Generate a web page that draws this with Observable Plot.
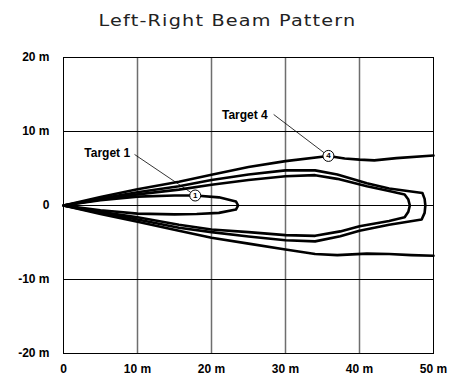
<!DOCTYPE html>
<html><head><meta charset="utf-8">
<script src="https://cdn.jsdelivr.net/npm/d3@7"></script>
<script src="https://cdn.jsdelivr.net/npm/@observablehq/plot@0.6"></script>
<style>
body{margin:0;background:#fff;width:450px;height:379px;overflow:hidden}
#title{box-sizing:border-box;height:40px;padding-top:13px;font:16px/16px "DejaVu Sans",sans-serif;color:#222;text-align:center;white-space:nowrap}
#title span{display:inline-block;letter-spacing:1px;transform:scaleX(1.2);transform-origin:center;margin-left:4px}
</style></head><body>
<div id="title"><span>Left-Right Beam Pattern</span></div>
<div id="chart"></div>
<script>
const xTicks = [0, 10, 20, 30, 40, 50];
const xTickLabels = ["0", "10 m", "20 m", "30 m", "40 m", "50 m"];
const yTicks = [-20, -10, 0, 10, 20];
const yTickLabels = ["-20 m", "-10 m", "0", "10 m", "20 m"];

// Target 1 (closed lobe)
const t1x = [0, 5, 10, 15, 17.8, 21, 23.3, 23.6, 23.3, 21, 18, 15, 10, 5, 0];
const t1y = [0, 0.7, 1.2, 1.35, 1.35, 1.1, 0.55, 0, -0.55, -1.0, -1.15, -1.2, -1.1, -0.65, 0];
// Target 2 (closed lobe)
const t2x = [0, 5, 10, 15.6, 20, 25, 30, 34, 37, 41, 44, 46.1, 46.6, 46.8, 46.6, 46.1, 44, 40, 37.4, 34, 30, 25, 20, 15.6, 10, 5, 0];
const t2y = [0, 0.8, 1.5, 2.15, 2.8, 3.45, 3.95, 4.1, 3.6, 2.6, 1.95, 1.5, 0.8, 0, -0.85, -1.6, -2.1, -2.8, -3.5, -4.1, -4.0, -3.6, -3.25, -2.6, -1.6, -0.85, 0];
// Target 3 (closed lobe)
const t3x = [0, 5, 10, 15.6, 20, 25, 30, 34, 37, 41, 44, 48.5, 48.8, 48.9, 48.8, 48.4, 44, 40, 37.4, 34, 30, 25, 20, 15.6, 10, 5, 0];
const t3y = [0, 0.95, 1.8, 2.6, 3.45, 4.2, 4.75, 4.75, 4.2, 3.0, 2.3, 1.7, 0.9, 0, -1.0, -1.9, -2.6, -3.4, -4.15, -4.85, -4.7, -4.2, -3.6, -3.0, -1.9, -1.0, 0];
// Target 4 (open pattern)
const t4x = [50, 45, 42, 40, 38, 35.8, 30, 25, 20, 15.6, 10, 5, 0, 5, 10, 15.6, 20, 25, 30, 34, 37, 41, 44, 47, 50];
const t4y = [6.75, 6.4, 6.1, 6.2, 6.35, 6.7, 6.0, 5.2, 4.15, 3.2, 2.2, 1.15, 0, -1.15, -2.2, -3.4, -4.37, -5.15, -5.95, -6.55, -6.7, -6.5, -6.55, -6.7, -6.8];

const markerX = [17.8, 35.8];
const markerY = [1.35, 6.7];
const markerText = ["1", "4"];

const labelText = ["Target 1", "Target 4"];
const labelX = [9.0, 27.6];
const labelY = [7.07, 12.16];
const leaderX1 = [9.6, 28.4];
const leaderY1 = [6.9, 12.3];
const leaderX2 = [17.2, 35.2];
const leaderY2 = [1.77, 7.14];

const rows = [];
[[t1x, t1y, "T1"], [t2x, t2y, "T2"], [t3x, t3y, "T3"], [t4x, t4y, "T4"]].forEach(([xs, ys, k]) => {
  xs.forEach((x, i) => rows.push({x, y: ys[i], target: k}));
});
const markers = markerX.map((x, i) => ({x, y: markerY[i], text: markerText[i]}));
const labels = labelText.map((t, i) => ({x: labelX[i], y: labelY[i], text: t}));
const leaders = leaderX1.map((x1, i) => ({x1, y1: leaderY1[i], x2: leaderX2[i], y2: leaderY2[i]}));

const chart = Plot.plot({
  width: 450,
  height: 339,
  marginLeft: 63,
  marginRight: 17,
  marginTop: 17,
  marginBottom: 26,
  style: {fontFamily: "'Liberation Sans', Arial, sans-serif", fontSize: "12px", fontWeight: "bold", color: "#000", background: "#fff", overflow: "visible"},
  x: {domain: [0, 50], label: null},
  y: {domain: [-20, 20], label: null},
  marks: [
    Plot.ruleX([10, 20, 30, 40], {stroke: "#6e6e6e", strokeWidth: 1.5}),
    Plot.ruleY([-10, 0, 10], {stroke: "#000", strokeWidth: 1}),
    Plot.frame({stroke: "#000", strokeWidth: 1}),
    Plot.axisX({ticks: xTicks, tickSize: 0, tickPadding: 11, tickFormat: d => xTickLabels[xTicks.indexOf(d)], label: null}),
    Plot.axisY({ticks: yTicks, tickSize: 0, tickPadding: 14, tickFormat: d => yTickLabels[yTicks.indexOf(d)], label: null}),
    Plot.line(rows, {x: "x", y: "y", z: "target", stroke: "#000", strokeWidth: 2.6, strokeLinejoin: "round"}),
    Plot.link(leaders, {x1: "x1", y1: "y1", x2: "x2", y2: "y2", stroke: "#000", strokeWidth: 0.8}),
    Plot.text(labels, {x: "x", y: "y", text: "text", textAnchor: "end", fontSize: 12, fontWeight: "bold"}),
    Plot.dot(markers, {x: "x", y: "y", r: 5.5, fill: "#fff", stroke: "#000", strokeWidth: 1}),
    Plot.text(markers, {x: "x", y: "y", text: "text", fontSize: 8, fontWeight: "bold"})
  ]
});
document.getElementById("chart").appendChild(chart);
</script></body></html>
